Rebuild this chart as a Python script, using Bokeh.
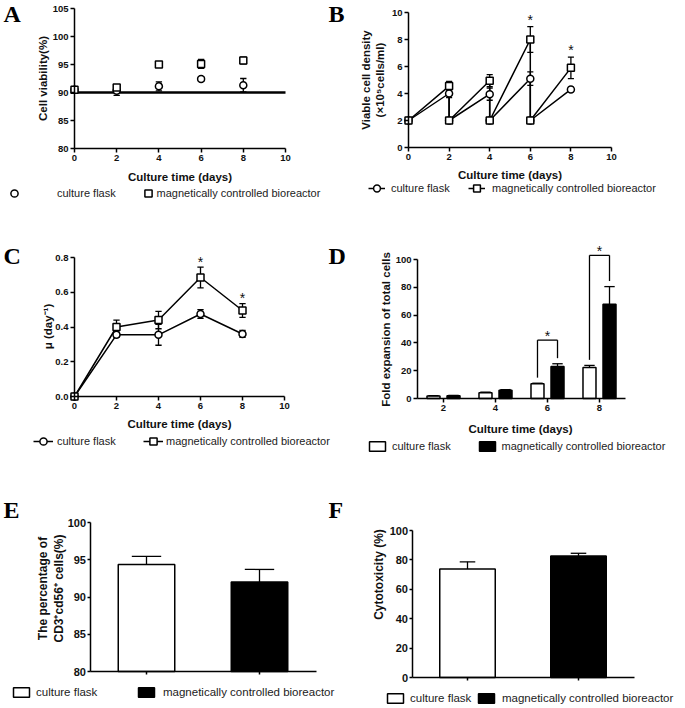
import numpy as np
from bokeh.plotting import figure
from bokeh.layouts import row, column
from bokeh.models import (ColumnDataSource, Legend, LegendItem, Label,
                          Range1d, FixedTicker, NumeralTickFormatter)
from bokeh.core.properties import value
from bokeh.embed import file_html
from bokeh.resources import INLINE

# ---------------- data ----------------
groups = ["culture flask", "magnetically controlled bioreactor"]

# A: cell viability (%)
days = [0, 2, 4, 6, 8]
via_flask = [90.5, 90.3, 91.1, 92.4, 91.3]
via_flask_err = [0.0, 0.8, 0.8, 0.4, 1.2]
via_bio = [90.5, 90.9, 95.0, 95.1, 95.7]
via_bio_err = [0.0, 0.3, 0.3, 0.8, 0.6]
via_ref = 90

# B: viable cell density (x10^5 cells/ml), re-seeded to 2 at each time point
dens_days = [0, 2, 2, 4, 4, 6, 6, 8]
dens_flask = [2.0, 4.0, 2.0, 3.95, 2.0, 5.1, 2.0, 4.3]
dens_flask_err = [0, 0.3, 0, 0.45, 0, 0.5, 0, 0.15]
dens_bio = [2.0, 4.55, 2.0, 4.95, 2.0, 8.0, 2.0, 5.9]
dens_bio_err = [0, 0.35, 0, 0.45, 0, 0.95, 0, 0.8]
dens_sig_days = [6, 8]
dens_sig_y = [9.75, 7.5]

# C: specific growth rate (day^-1)
mu_flask = [0.0, 0.355, 0.355, 0.475, 0.36]
mu_flask_err = [0, 0.015, 0.06, 0.025, 0.02]
mu_bio = [0.0, 0.40, 0.44, 0.685, 0.495]
mu_bio_err = [0, 0.04, 0.05, 0.06, 0.04]
mu_sig_days = [6, 8]
mu_sig_y = [0.80, 0.59]

# D: fold expansion of total cells
fold_days = [2, 4, 6, 8]
fold_flask = [1.8, 4.2, 10.6, 22.3]
fold_flask_err = [0.3, 0.3, 0.4, 1.5]
fold_bio = [2.0, 6.0, 23.0, 67.8]
fold_bio_err = [0.3, 0.4, 2.0, 12.7]
fold_sig_days = [6, 8]
fold_sig_top = [42, 103]

# E: CD3+CD56+ percentage, F: cytotoxicity
cd_pct = [94.35, 92.0]
cd_err = [1.1, 1.7]
cyto_pct = [73.8, 82.7]
cyto_err = [4.9, 1.8]

# axis extents
time_axis = (0, 10)
fold_axis = (1, 9)
group_pos = list(range(1, len(groups) + 1))
group_axis = (0.5, len(groups) + 0.5)

# ---------------- helpers ----------------
FONT = "Liberation Sans"
SERIF = "Liberation Serif"
INK = "#111111"


def panel(w, h, xp, xv, yp, yv):
    """Figure whose frame fills the canvas; data value xv[i] sits at pixel xp[i]
    (from the left), yv[i] at pixel yp[i] (from the top)."""
    sx = (xp[1] - xp[0]) / (xv[1] - xv[0])
    xr = Range1d(xv[0] - xp[0] / sx, xv[1] + (w - xp[1]) / sx)
    sy = (yp[1] - yp[0]) / (yv[0] - yv[1])
    yr = Range1d(yv[1] - (h - yp[1]) / sy, yv[0] + yp[0] / sy)
    p = figure(width=w, height=h, x_range=xr, y_range=yr,
               output_backend="svg", toolbar_location=None,
               min_border=0, min_border_left=0, min_border_right=0,
               min_border_top=0, min_border_bottom=0,
               background_fill_color="white", border_fill_color="white")
    p.outline_line_color = None
    p.xgrid.visible = False
    p.ygrid.visible = False
    return p


def axes(p, xb, yb, xticks, yticks, tick_fs="9.5px", tick_out=4, standoff=2):
    p.xaxis.fixed_location = yb[0]
    p.xaxis.bounds = xb
    p.yaxis.fixed_location = xb[0]
    p.yaxis.bounds = yb
    p.xaxis.ticker = FixedTicker(ticks=xticks)
    p.yaxis.ticker = FixedTicker(ticks=yticks)
    for ax in p.axis:
        ax.axis_line_width = 1.5
        ax.axis_line_color = "black"
        ax.major_tick_line_width = 1.5
        ax.major_tick_line_color = "black"
        ax.major_tick_in = 0
        ax.major_tick_out = tick_out
        ax.minor_tick_line_color = None
        ax.major_label_text_font = FONT
        ax.major_label_text_font_style = "bold"
        ax.major_label_text_font_size = tick_fs
        ax.major_label_text_color = INK
        ax.major_label_standoff = standoff


def title(p, txt, x, y, size="11.5px", angle=0):
    p.add_layout(Label(x=x, y=y, x_units="screen", y_units="screen", text=txt,
                       angle=angle, angle_units="deg", text_font=FONT,
                       text_font_style="bold", text_font_size=size, text_color=INK,
                       text_align="center", text_baseline="middle"))


def letter(p, txt, x, y):
    p.add_layout(Label(x=x, y=y, x_units="screen", y_units="screen", text=txt,
                       text_font=SERIF, text_font_style="bold", text_font_size="24px",
                       text_color="black", text_baseline="alphabetic", text_align="left"))


def errbars(p, x, y, err, cap, both=True):
    x = np.asarray(x, float)
    y = np.asarray(y, float)
    e = np.asarray(err, float)
    m = e > 0
    x, lo, hi = x[m], (y - e)[m], (y + e)[m]
    base = lo if both else y[m]
    p.segment(x, base, x, hi, line_color="black", line_width=1.3)
    p.segment(x - cap, hi, x + cap, hi, line_color="black", line_width=1.3)
    if both:
        p.segment(x - cap, lo, x + cap, lo, line_color="black", line_width=1.3)


def add_item(p, renderers, label, x, y, gw, gh, standoff, fs="11px"):
    leg = Legend(items=[LegendItem(label=label, renderers=renderers)],
                 location=(x, y), orientation="horizontal",
                 glyph_width=gw, glyph_height=gh, label_height=gh,
                 label_standoff=standoff, padding=0, margin=0, spacing=0,
                 border_line_color=None, background_fill_alpha=0,
                 label_text_font=FONT, label_text_font_size=fs,
                 label_text_color="#222222")
    p.add_layout(leg)


def stars(p, x, y):
    p.text(x=x, y=y, text=value("*"), text_align="center", text_baseline="middle",
           text_font=value(FONT), text_font_size="14px", text_color=INK, y_offset=4)


MK = dict(size=7, fill_color="white", line_color="black", line_width=1.5)
LN = dict(line_color="black", line_width=1.5)
LW, RW = 348, 336
H1, H2, H3 = 208, 252, 247
TIME_TICKS = [0, 2, 4, 6, 8, 10]
LET_UP = 9  # baseline correction for the panel letters

# ---------------- A ----------------
pA = panel(LW, H1, (74, 285), time_axis, (8, 148), (105, 80))
axes(pA, time_axis, (80, 105), TIME_TICKS, [80, 85, 90, 95, 100, 105])
pA.segment(x0=time_axis[0], y0=via_ref, x1=time_axis[1], y1=via_ref,
           line_color="black", line_width=2.5)
errbars(pA, days, via_flask, via_flask_err, 0.15)
errbars(pA, days, via_bio, via_bio_err, 0.15)
rA1 = pA.scatter(days, via_flask, marker="circle", **MK)
rA2 = pA.scatter(days, via_bio, marker="square", **MK)
title(pA, "Culture time (days)", 179.5, H1 - 176)
title(pA, "Cell viability(%)", 42, H1 - 78, angle=90)
add_item(pA, [rA1], groups[0], 5, 6, 18, 18, 34)
add_item(pA, [rA2], groups[1], 138.5, 6, 18, 18, 0)
letter(pA, "A", 3, H1 - 22 + LET_UP)
letter(pA, "B", 328, H1 - 22 + LET_UP)

# ---------------- B ----------------
pB = panel(RW, H1, (60, 263), time_axis, (12, 147), (10, 0))
axes(pB, time_axis, (0, 10), TIME_TICKS, [0, 2, 4, 6, 8, 10])
lB1 = pB.line(dens_days, dens_flask, **LN)
lB2 = pB.line(dens_days, dens_bio, **LN)
errbars(pB, dens_days, dens_flask, dens_flask_err, 0.15)
errbars(pB, dens_days, dens_bio, dens_bio_err, 0.15)
rB1 = pB.scatter(dens_days, dens_flask, marker="circle", **MK)
rB2 = pB.scatter(dens_days, dens_bio, marker="square", **MK)
stars(pB, dens_sig_days, dens_sig_y)
title(pB, "Culture time (days)", 161.5, H1 - 174)
title(pB, "Viable cell density\n(×10⁵cells/ml)", 24.5, H1 - 79.5, angle=90)
add_item(pB, [lB1, rB1], groups[0], 20, 11, 17, 18, 6)
add_item(pB, [lB2, rB2], groups[1], 120, 11, 17, 18, 7)

# ---------------- C ----------------
pC = panel(LW, H2, (74, 284), time_axis, (49, 188), (0.8, 0))
axes(pC, time_axis, (0, 0.8), TIME_TICKS, [0, 0.2, 0.4, 0.6, 0.8])
pC.yaxis.formatter = NumeralTickFormatter(format="0.0")
lC1 = pC.line(days, mu_flask, **LN)
lC2 = pC.line(days, mu_bio, **LN)
errbars(pC, days, mu_flask, mu_flask_err, 0.15)
errbars(pC, days, mu_bio, mu_bio_err, 0.15)
rC1 = pC.scatter(days, mu_flask, marker="circle", **MK)
rC2 = pC.scatter(days, mu_bio, marker="square", **MK)
stars(pC, mu_sig_days, mu_sig_y)
title(pC, "Culture time (days)", 179, H2 - 215)
title(pC, "μ (day⁻¹)", 47, H2 - 118, angle=90)
add_item(pC, [lC1, rC1], groups[0], 33, 10, 20, 18, 4)
add_item(pC, [lC2, rC2], groups[1], 143, 10, 20, 18, 3)
letter(pC, "C", 3, H2 - 56 + LET_UP)
letter(pC, "D", 328, H2 - 56 + LET_UP)

# ---------------- D ----------------
pD = panel(RW, H2, (95, 251), (fold_days[0], fold_days[-1]), (51, 190), (100, 0))
axes(pD, fold_axis, (0, 100), fold_days, [0, 20, 40, 60, 80, 100])
OFF, BW, CAP, GAP = 0.385, 0.5, 0.2, 4
fd = np.asarray(fold_days, float)
rD1 = pD.vbar(x=fd - OFF, top=fold_flask, width=BW,
              fill_color="white", line_color="black", line_width=1.5)
rD2 = pD.vbar(x=fd + OFF, top=fold_bio, width=BW,
              fill_color="black", line_color="black", line_width=1.5)
errbars(pD, fd - OFF, fold_flask, fold_flask_err, CAP, both=False)
errbars(pD, fd + OFF, fold_bio, fold_bio_err, CAP, both=False)
idx = [fold_days.index(d) for d in fold_sig_days]
sd = np.asarray(fold_sig_days, float)
top = np.asarray(fold_sig_top, float)
lb = np.array([fold_flask[i] + fold_flask_err[i] + GAP for i in idx])
rb = np.array([fold_bio[i] + fold_bio_err[i] + GAP for i in idx])
pD.segment(sd - OFF, lb, sd - OFF, top, line_color="black", line_width=1.3)
pD.segment(sd + OFF, rb, sd + OFF, top, line_color="black", line_width=1.3)
pD.segment(sd - OFF, top, sd + OFF, top, line_color="black", line_width=1.3)
stars(pD, sd, top + 6)
title(pD, "Culture time (days)", 172, H2 - 220)
title(pD, "Fold expansion of total cells", 37, H2 - 121, angle=90)
add_item(pD, [rD1], groups[0], 19, 8, 20, 12, 5)
add_item(pD, [rD2], groups[1], 128.5, 8, 20, 12, 5)

# ---------------- E ----------------
pE = panel(LW, H3, (146, 259), (group_pos[0], group_pos[1]), (62, 211), (100, 80))
axes(pE, group_axis, (80, 100), group_pos, [80, 85, 90, 95, 100],
     tick_fs="11px", tick_out=3, standoff=1)
pE.xaxis.major_label_text_color = None
rE1 = pE.vbar(x=group_pos[:1], top=cd_pct[:1], bottom=80, width=0.5,
              fill_color="white", line_color="black", line_width=1.5)
rE2 = pE.vbar(x=group_pos[1:], top=cd_pct[1:], bottom=80, width=0.5,
              fill_color="black", line_color="black", line_width=1.5)
errbars(pE, group_pos, cd_pct, cd_err, 0.13, both=False)
title(pE, "The percentage of\nCD3⁺cd56⁺ cells(%)", 50.5, H3 - 128, size="12px", angle=90)
add_item(pE, [rE1], groups[0], 11, 9, 20, 12, 5, "11.5px")
add_item(pE, [rE2], groups[1], 136, 9, 20, 12, 7, "11.5px")
letter(pE, "E", 3, H3 - 58 + LET_UP)
letter(pE, "F", 328, H3 - 58 + LET_UP)

# ---------------- F ----------------
pF = panel(RW, H3, (119, 230), (group_pos[0], group_pos[1]), (70, 217), (100, 0))
axes(pF, group_axis, (0, 100), group_pos, [0, 20, 40, 60, 80, 100],
     tick_fs="11px", tick_out=3, standoff=1)
pF.xaxis.major_label_text_color = None
rF1 = pF.vbar(x=group_pos[:1], top=cyto_pct[:1], width=0.5,
              fill_color="white", line_color="black", line_width=1.5)
rF2 = pF.vbar(x=group_pos[1:], top=cyto_pct[1:], width=0.5,
              fill_color="black", line_color="black", line_width=1.5)
errbars(pF, group_pos, cyto_pct, cyto_err, 0.07, both=False)
title(pF, "Cytotoxicity (%)", 30, H3 - 114, size="12px", angle=90)
add_item(pF, [rF1], groups[0], 37, 3, 20, 12, 5, "11.5px")
add_item(pF, [rF2], groups[1], 128, 3, 20, 12, 6, "11.5px")

layout = column(row(pA, pB), row(pC, pD), row(pE, pF))
open("out.html", "w").write(file_html(layout, INLINE))
